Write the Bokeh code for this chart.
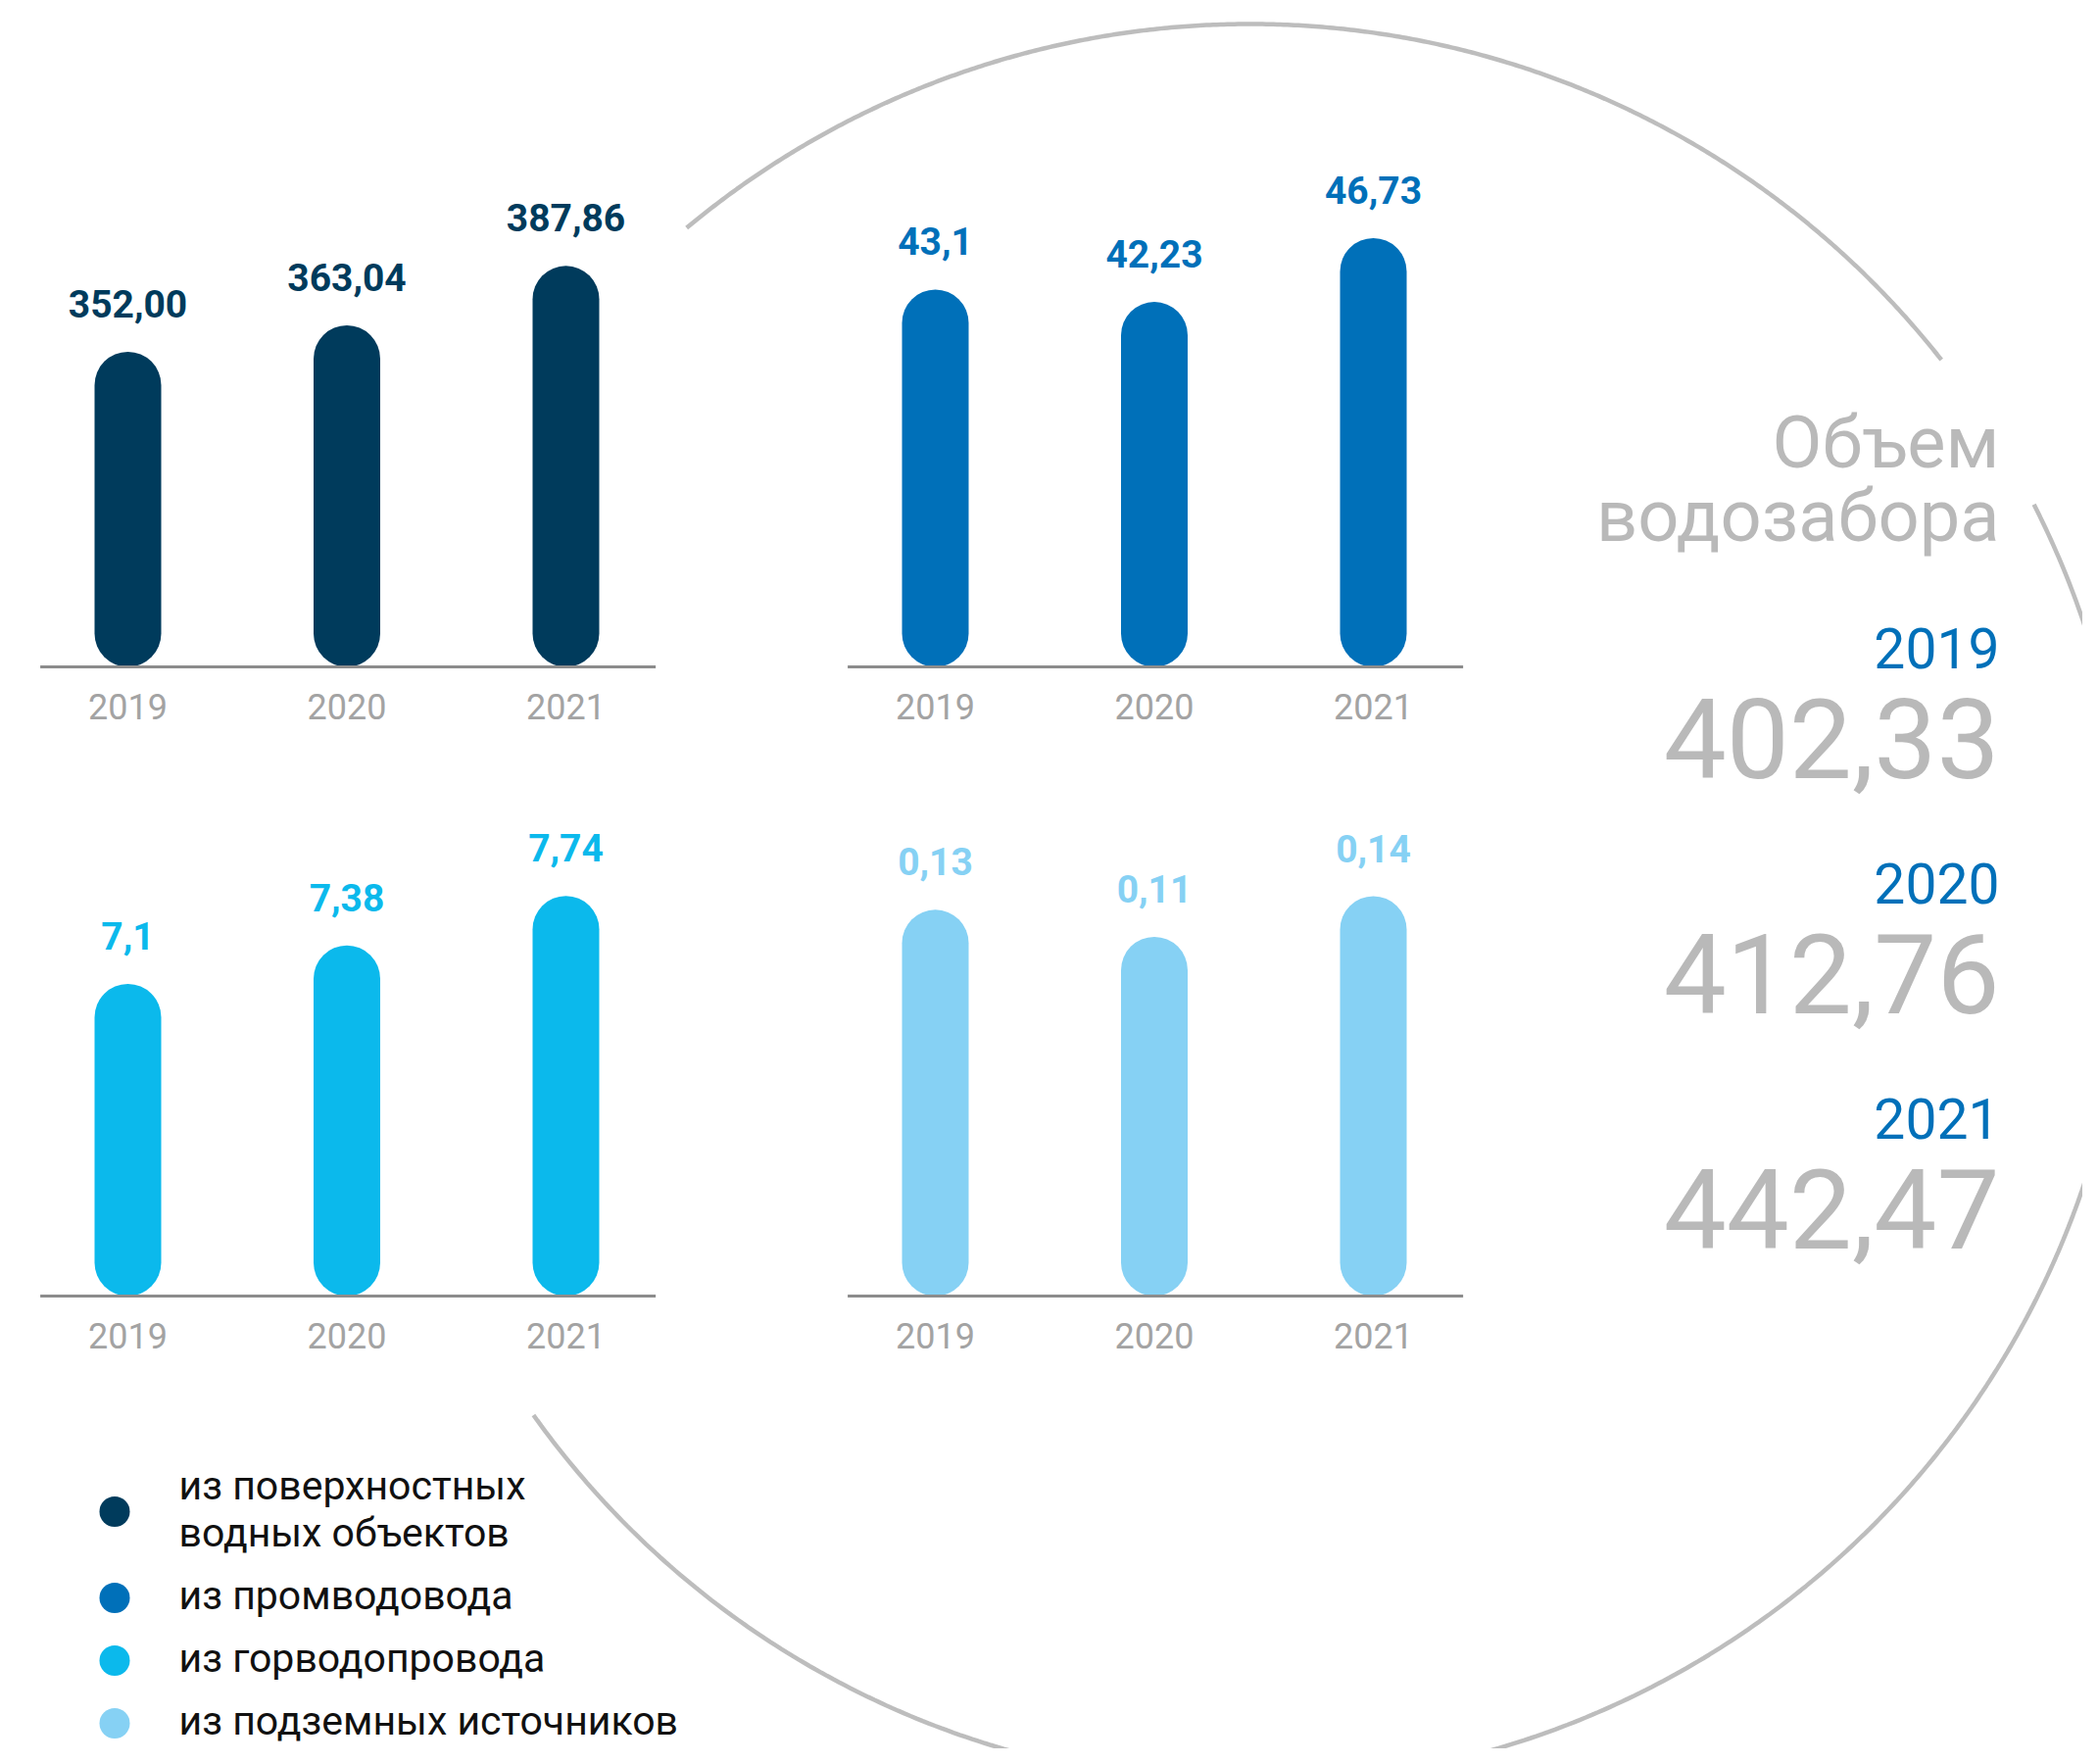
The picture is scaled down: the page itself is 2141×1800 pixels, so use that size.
import numpy as np
from bokeh.plotting import figure
from bokeh.models import Range1d, ColumnDataSource
from bokeh.core.properties import value
from bokeh.embed import file_html
from bokeh.resources import INLINE

# ---------------- data ----------------
years = ["2019", "2020", "2021"]
surface = [352.00, 363.04, 387.86]
industrial = [43.1, 42.23, 46.73]
city = [7.1, 7.38, 7.74]
underground = [0.13, 0.11, 0.14]
surface_labels = ["352,00", "363,04", "387,86"]
industrial_labels = ["43,1", "42,23", "46,73"]
city_labels = ["7,1", "7,38", "7,74"]
underground_labels = ["0,13", "0,11", "0,14"]
series_names = ["из поверхностных\nводных объектов", "из промводовода",
                "из горводопровода", "из подземных источников"]
title_lines = ["Объем", "водозабора"]

totals = [a + b + c + d for a, b, c, d in zip(surface, industrial, city, underground)]
total_labels = [f"{t:.2f}".replace(".", ",") for t in totals]

colors = ["#003b5c", "#0070b9", "#0bb9ec", "#86d1f4"]
GRAY_AXIS = "#8c8c8c"
GRAY_TICK = "#a3a3a3"
GRAY_BIG = "#b9b9b9"
BLUE_YEAR = "#0070b9"
FONT = "Roboto"
BASE_SHIFT = 0.35  # compensation (em) so text sits on its alphabetic baseline


def lift(size):
    return -round(BASE_SHIFT * size)


# ---------------- canvas ----------------
W, H = 2125, 1784
p = figure(width=W, height=H, x_range=Range1d(0, W), y_range=Range1d(H, 0),
           output_backend="svg", toolbar_location=None, min_border=0,
           x_axis_type=None, y_axis_type=None)
p.grid.visible = False
p.outline_line_color = None
p.background_fill_color = "white"
p.border_fill_color = "white"

# decorative circle (two visible arcs)
cx, cy, R = 1275.0, 922.0, 898.0
for a0, a1 in [(-129.8, -38.2), (-27.0, 144.5)]:
    t = np.radians(np.linspace(a0, a1, 400))
    p.line(cx + R * np.cos(t), cy + R * np.sin(t), line_color="#bdbdbd", line_width=4.5)

# ---------------- bar panels ----------------
SPACING = 223.5
BAR_W = 68
SCALE_PX = 440  # pixel height that spans [vmin, vmax]
panels = [
    dict(vals=surface, labels=surface_labels, color=colors[0], x0=130, yb=680, vmin=220.28, vmax=400.5),
    dict(vals=industrial, labels=industrial_labels, color=colors[1], x0=954, yb=680, vmin=16.49, vmax=46.9),
    dict(vals=city, labels=city_labels, color=colors[2], x0=130, yb=1322, vmin=4.829, vmax=7.966),
    dict(vals=underground, labels=underground_labels, color=colors[3], x0=954, yb=1322, vmin=-0.1557, vmax=0.1632),
]

for k, pn in enumerate(panels):
    xn, yn = f"x{k}", f"y{k}"
    p.extra_x_ranges[xn] = Range1d(start=(0 - pn["x0"]) / SPACING, end=(W - pn["x0"]) / SPACING)
    u = (pn["vmax"] - pn["vmin"]) / SCALE_PX
    p.extra_y_ranges[yn] = Range1d(start=pn["vmin"] - (H - pn["yb"]) * u,
                                   end=pn["vmin"] + pn["yb"] * u)
    r = BAR_W / 2 * u
    idx = list(range(len(years)))
    src = ColumnDataSource(dict(
        x=idx, v=pn["vals"], lab=pn["labels"], yr=years,
        y0=[pn["vmin"] + r] * len(idx), y1=[v - r for v in pn["vals"]],
        base=[pn["vmin"]] * len(idx)))
    # rounded bars
    p.segment(x0="x", x1="x", y0="y0", y1="y1", source=src, line_color=pn["color"],
              line_width=BAR_W, line_cap="round", x_range_name=xn, y_range_name=yn)
    # baseline
    p.segment(x0=-0.4, x1=2.41, y0=pn["vmin"], y1=pn["vmin"], line_color=GRAY_AXIS, line_width=3,
              x_range_name=xn, y_range_name=yn)
    # value labels
    p.text(x="x", y="v", text="lab", source=src, x_range_name=xn, y_range_name=yn,
           y_offset=-35 + lift(39), text_align="center", text_baseline="alphabetic",
           text_font=value(FONT), text_font_style="bold", text_font_size="39px",
           text_color=pn["color"])
    # year tick labels
    p.text(x="x", y="base", text="yr", source=src, x_range_name=xn, y_range_name=yn,
           y_offset=53 + lift(36), text_align="center", text_baseline="alphabetic",
           text_font=value(FONT), text_font_size="36px", text_color=GRAY_TICK)

# ---------------- right-hand totals ----------------
RX = 2040
p.text(x=[RX] * 2, y=[477, 552], text=title_lines, text_align="right", text_baseline="alphabetic",
       y_offset=lift(74), text_font=value(FONT), text_font_size="74px", text_color=GRAY_BIG)
row_y = [681 + 240 * i for i in range(len(years))]
p.text(x=[RX] * 3, y=row_y, text=years, text_align="right", text_baseline="alphabetic",
       y_offset=lift(57), text_font=value(FONT), text_font_size="57px", text_color=BLUE_YEAR)
p.text(x=[RX] * 3, y=[y + 112 for y in row_y], text=total_labels, text_align="right",
       y_offset=lift(114), text_baseline="alphabetic", text_font=value(FONT),
       text_font_size="114px", text_color=GRAY_BIG)

# ---------------- legend ----------------
LX_DOT, LX_TXT = 116.5, 182
LINE_H, GAP = 48, 64
yb = 1529
for name, col in zip(series_names, colors):
    lines = name.split("\n")
    p.scatter(x=[LX_DOT], y=[yb - 11 + (len(lines) - 1) * LINE_H / 2], size=31,
              fill_color=col, line_color=None)
    ys = [yb + j * LINE_H for j in range(len(lines))]
    p.text(x=[LX_TXT] * len(lines), y=ys, text=lines, text_align="left",
           y_offset=lift(41), text_baseline="alphabetic", text_font=value(FONT),
           text_font_size="41px", text_color="#111111")
    yb = ys[-1] + GAP

open("out.html", "w").write(file_html(p, INLINE))
